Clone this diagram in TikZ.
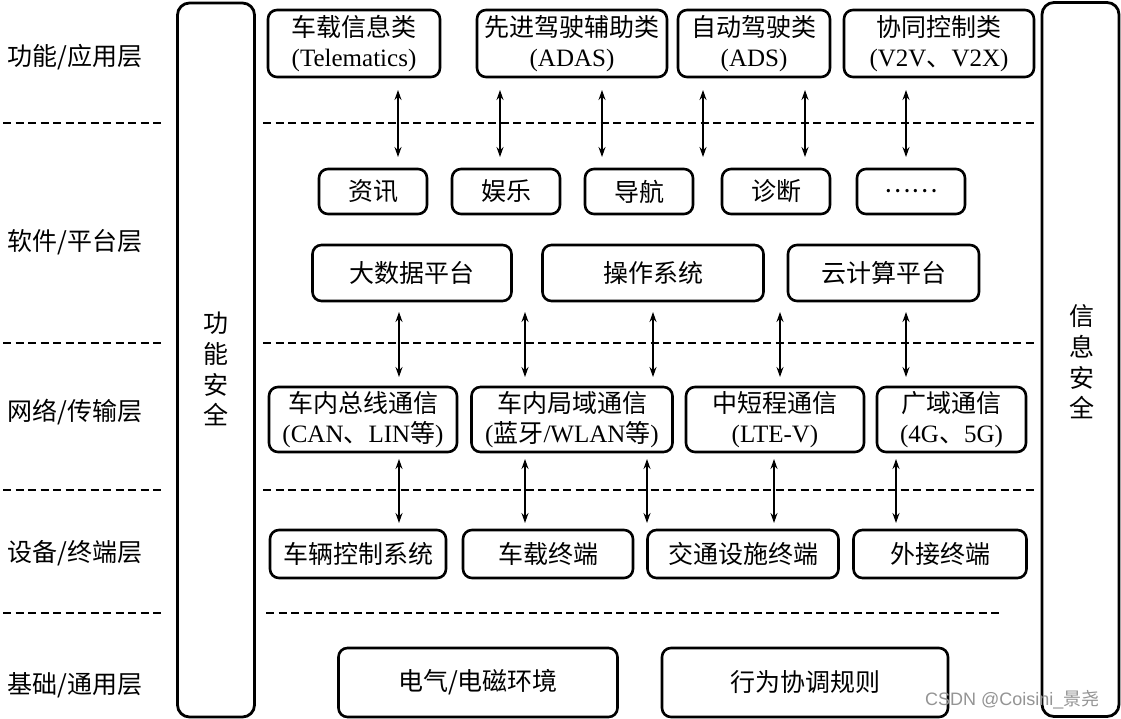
\documentclass[tikz,border=0pt]{standalone}
\usepackage{fontspec}
\setmainfont{Noto Sans CJK SC}
\newfontfamily\lat{Liberation Serif}
\newfontfamily\cjk{Noto Sans CJK SC}
\newfontfamily\wmfont{Liberation Sans}
\usetikzlibrary{arrows.meta}

\begin{document}
\begin{tikzpicture}[
    x=1pt, y=-1pt,
    box/.style={
        rectangle, draw, rounded corners=9pt, line width=2.6pt,
        inner sep=0pt, align=center,
        font=\fontsize{25}{30}\selectfont
    },
    side/.style={
        rectangle, draw, rounded corners=12pt, line width=2.8pt,
        minimum width=77pt, minimum height=714pt
    },
    layer/.style={font=\fontsize{25}{30.7}\selectfont, align=center},
    sep/.style={dash pattern=on 8pt off 4.5pt, line width=1.8pt},
    arrow/.style={{Stealth[length=10pt,width=7pt]}-{Stealth[length=10pt,width=7pt]},
        line width=1.4pt}
]
\useasboundingbox[fill=white] (0,0) rectangle (1121,719);

% safety columns
\node[side] (fs) at (216,360) {};
\node[side] (is) at (1080.5,359.5) {};
\node[layer] (fstext) at (216,369) {功\\能\\安\\全};
\node[layer] (istext) at (1082,362) {信\\息\\安\\全};

% layer names
\node[layer] (l1) at (75,57)  {功能/应用层};
\node[layer] (l2) at (75,242) {软件/平台层};
\node[layer] (l3) at (75,412) {网络/传输层};
\node[layer] (l4) at (75,553) {设备/终端层};
\node[layer] (l5) at (75,685) {基础/通用层};

% separators
\foreach \y in {123,343,490,613}
    \draw[sep] (3,\y) -- (165,\y);
\foreach \y in {123,343,490}
    \draw[sep] (263,\y) -- (1035,\y);
\draw[sep] (266,613) -- (1003,613);

% function / application
\node[box, minimum width=172pt, minimum height=67pt] (tel)  at (354,43.5)
    {车载信息类\\{\lat (Telematics)}};
\node[box, minimum width=190pt, minimum height=67pt] (adas) at (572,43.5)
    {先进驾驶辅助类\\{\lat (ADAS)}};
\node[box, minimum width=152pt, minimum height=67pt] (ads)  at (754,43.5)
    {自动驾驶类\\{\lat (ADS)}};
\node[box, minimum width=190pt, minimum height=67pt] (v2x)  at (939,43.5)
    {协同控制类\\{\lat (V2V}、{\lat V2X)}};

% software / platform
\node[box, minimum width=108pt, minimum height=45pt] (info) at (373,191.5) {资讯};
\node[box, minimum width=108pt, minimum height=45pt] (ent)  at (506,191.5) {娱乐};
\node[box, minimum width=108pt, minimum height=45pt] (nav)  at (639,191.5) {导航};
\node[box, minimum width=108pt, minimum height=45pt] (diag) at (776,191.5) {诊断};
\node[box, minimum width=108pt, minimum height=45pt] (more) at (911,191.5) {……};
\node[box, minimum width=199pt, minimum height=56pt] (bigd) at (412,273) {大数据平台};
\node[box, minimum width=221pt, minimum height=56pt] (os)   at (653,273) {操作系统};
\node[box, minimum width=191pt, minimum height=56pt] (cloud) at (883.5,273) {云计算平台};

% network / transport
\node[box, minimum width=188pt, minimum height=65pt] (bus)  at (363,419.5)
    {车内总线通信\\{\lat (CAN}、{\lat LIN}等{\lat )}};
\node[box, minimum width=201pt, minimum height=65pt] (wlan) at (572,419.5)
    {车内局域通信\\{\lat (}蓝牙{\lat /WLAN}等{\lat )}};
\node[box, minimum width=178pt, minimum height=65pt] (ltev) at (775,419.5)
    {中短程通信\\{\lat (LTE-V)}};
\node[box, minimum width=149pt, minimum height=65pt] (wan)  at (951.5,419.5)
    {广域通信\\{\lat (4G}、{\lat 5G)}};

% device / terminal
\node[box, minimum width=176pt, minimum height=48pt] (ctrl) at (358,554) {车辆控制系统};
\node[box, minimum width=170pt, minimum height=48pt] (obu)  at (548,554) {车载终端};
\node[box, minimum width=191pt, minimum height=48pt] (rsu)  at (743,554) {交通设施终端};
\node[box, minimum width=173pt, minimum height=48pt] (ext)  at (940,554) {外接终端};

% base / common
\node[box, minimum width=279pt, minimum height=69pt] (emc)  at (478,682.5) {电气/电磁环境};
\node[box, minimum width=286pt, minimum height=69pt] (rule) at (805,682.5) {行为协调规则};

% links between layers
\foreach \x [count=\i] in {398,500,602,703,805,906} {
    \coordinate (a\i) at (\x,90);
    \coordinate (b\i) at (\x,157);
    \draw[arrow] (a\i) -- (b\i);
}
\foreach \x [count=\i] in {399,525,653,780,906} {
    \coordinate (c\i) at (\x,312);
    \coordinate (d\i) at (\x,377);
    \draw[arrow] (c\i) -- (d\i);
}
\foreach \x [count=\i] in {399,525,647,774,896} {
    \coordinate (e\i) at (\x,459);
    \coordinate (f\i) at (\x,523);
    \draw[arrow] (e\i) -- (f\i);
}

% watermark
\node[anchor=west, inner sep=0pt, text=black!42,
      font=\wmfont\fontsize{18}{18}\selectfont] (wm) at (925,700)
    {CSDN @Coisini\_{\cjk 景尧}};
\end{tikzpicture}
\end{document}
